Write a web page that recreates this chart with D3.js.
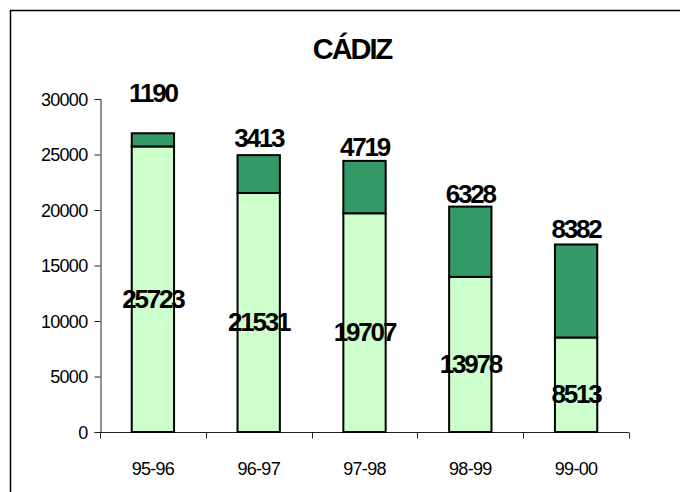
<!DOCTYPE html>
<html>
<head>
<meta charset="utf-8">
<script src="https://cdn.jsdelivr.net/npm/d3@7"></script>
<style>
  body { margin: 0; background: #fff; }
  text { font-family: "Liberation Sans", Arial, sans-serif; fill: #000; }
  .title { font-size: 29px; font-weight: bold; letter-spacing: -2px; }
  .val { font-size: 26px; font-weight: bold; letter-spacing: -2.2px; }
  .axis text { font-size: 18px; letter-spacing: -0.7px; }
  .axis path, .axis line { stroke: #222; }
</style>
</head>
<body>
<div id="vis"></div>
<script>
'use strict';

// data
var seasons = ['95-96', '96-97', '97-98', '98-99', '99-00'];
var lower = [25723, 21531, 19707, 13978, 8513];
var upper = [1190, 3413, 4719, 6328, 8382];
var yTicks = [0, 5000, 10000, 15000, 20000, 25000, 30000];

//layout
var W = 680, H = 492;
var plot = { left: 100, right: 629, top: 99, bottom: 432 };
// pixel gap between top label baseline and bar top
var labelGap = [31, 8, 5, 4, 6];

var colors = { lower: '#CCFFCC', upper: '#339966', stroke: '#000' };

var svg = d3.select('#vis').append('svg')
    .attr('width', W)
    .attr('height', H);

//frame
svg.append('rect')
    .attr('x', 10.5).attr('y', 10.5)
    .attr('width', 720).attr('height', 520)
    .attr('fill', 'none')
    .attr('stroke', '#000')
    .attr('stroke-width', 1.5);

svg.append('text')
    .attr('class', 'title')
    .attr('x', 352)
    .attr('y', 59)
    .attr('text-anchor', 'middle')
    .text('CÁDIZ');

var x = d3.scaleBand()
    .domain(seasons)
    .range([plot.left, plot.right])
    .paddingInner(0.6)
    .paddingOuter(0.3);
var y = d3.scaleLinear()
    .domain([0, 30000])
    .range([plot.bottom, plot.top]);

//y axis
var yAxis = svg.append('g')
    .attr('class', 'axis')
    .attr('transform', 'translate(' + (plot.left + 0.5) + ',0)')
    .call(d3.axisLeft(y).tickValues(yTicks).tickSize(6).tickPadding(7).tickFormat(d3.format('d')));
yAxis.selectAll('text').attr('dy', '0.35em');

//x axis, ticks between categories
var xAxis = svg.append('g')
    .attr('class', 'axis')
    .attr('transform', 'translate(0,' + (plot.bottom + 0.5) + ')');
xAxis.append('line')
    .attr('x1', plot.left).attr('x2', plot.right);
var bounds = seasons.map(function (s) { return x(s) - x.step() * 0.3; });
bounds.push(plot.right);
xAxis.selectAll('.xt').data(bounds).enter().append('line')
    .attr('class', 'xt')
    .attr('x1', function (d) { return Math.round(d) + 0.5; })
    .attr('x2', function (d) { return Math.round(d) + 0.5; })
    .attr('y2', 6);
xAxis.selectAll('.xl').data(seasons).enter().append('text')
    .attr('class', 'xl')
    .attr('x', function (d) { return x(d) + x.bandwidth() / 2; })
    .attr('y', 42)
    .attr('text-anchor', 'middle')
    .text(function (d) { return d; });

//bars
var bars = svg.selectAll('.bar').data(seasons).enter().append('g').attr('class', 'bar');
bars.append('rect')
    .attr('x', function (d) { return x(d); })
    .attr('y', function (d, i) { return y(lower[i]); })
    .attr('width', x.bandwidth())
    .attr('height', function (d, i) { return y(0) - y(lower[i]); })
    .attr('fill', colors.lower)
    .attr('stroke', colors.stroke)
    .attr('stroke-width', 2);
bars.append('rect')
    .attr('x', function (d) { return x(d); })
    .attr('y', function (d, i) { return y(lower[i] + upper[i]); })
    .attr('width', x.bandwidth())
    .attr('height', function (d, i) { return y(lower[i]) - y(lower[i] + upper[i]); })
    .attr('fill', colors.upper)
    .attr('stroke', colors.stroke)
    .attr('stroke-width', 2);

//value labels
bars.append('text')
    .attr('class', 'val')
    .attr('x', function (d) { return x(d) + x.bandwidth() / 2; })
    .attr('y', function (d, i) { return y(lower[i] / 2) + 9; })
    .attr('dy', '0.36em')
    .attr('text-anchor', 'middle')
    .text(function (d, i) { return lower[i]; });
bars.append('text')
    .attr('class', 'val')
    .attr('x', function (d) { return x(d) + x.bandwidth() / 2; })
    .attr('y', function (d, i) { return y(lower[i] + upper[i]) - labelGap[i]; })
    .attr('text-anchor', 'middle')
    .text(function (d, i) { return upper[i]; });
</script>
</body>
</html>
